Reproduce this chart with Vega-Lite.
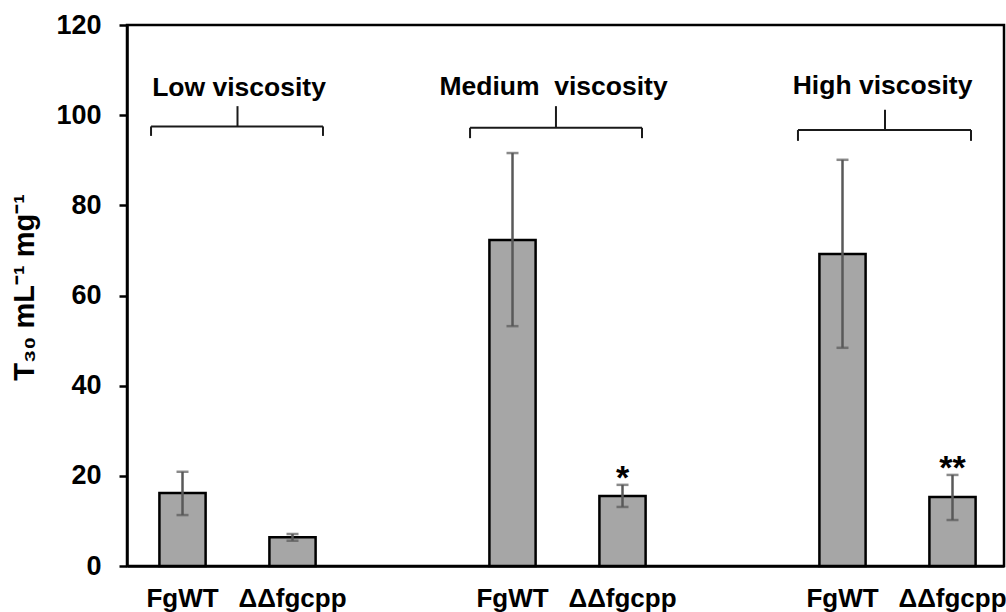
{
  "$schema": "https://vega.github.io/schema/vega-lite/v6.json",
  "width": 877,
  "height": 541,
  "autosize": {"type": "none"},
  "padding": {"left": 127, "top": 25, "right": 2, "bottom": 46},
  "background": "white",
  "config": {
    "view": {"stroke": "black", "strokeWidth": 2.5},
    "font": "Liberation Sans"
  },
  "datasets": {
    "bars": [
      {"cond": "low_WT", "viscosity": "Low", "strain": "FgWT", "mean": 16.2, "lo": 11.3, "hi": 20.9, "sig": ""},
      {"cond": "low_KO", "viscosity": "Low", "strain": "ΔΔfgcpp", "mean": 6.4, "lo": 5.6, "hi": 7.1, "sig": ""},
      {"cond": "med_WT", "viscosity": "Medium", "strain": "FgWT", "mean": 72.3, "lo": 53.2, "hi": 91.6, "sig": ""},
      {"cond": "med_KO", "viscosity": "Medium", "strain": "ΔΔfgcpp", "mean": 15.5, "lo": 13.1, "hi": 18.0, "sig": "*"},
      {"cond": "high_WT", "viscosity": "High", "strain": "FgWT", "mean": 69.2, "lo": 48.4, "hi": 90.1, "sig": ""},
      {"cond": "high_KO", "viscosity": "High", "strain": "ΔΔfgcpp", "mean": 15.3, "lo": 10.2, "hi": 20.2, "sig": "**"}
    ],
    "braces": [
      {"group": "Low", "x": -0.286, "x2": 1.277, "y": 97.5, "y2": 97.5},
      {"group": "Low", "x": -0.286, "x2": -0.286, "y": 97.5, "y2": 95.4},
      {"group": "Low", "x": 1.277, "x2": 1.277, "y": 97.5, "y2": 95.4},
      {"group": "Low", "x": 0.5, "x2": 0.5, "y": 97.5, "y2": 102.0},
      {"group": "Medium", "x": 2.614, "x2": 4.177, "y": 97.2, "y2": 97.2},
      {"group": "Medium", "x": 2.614, "x2": 2.614, "y": 97.2, "y2": 94.9},
      {"group": "Medium", "x": 4.177, "x2": 4.177, "y": 97.2, "y2": 94.9},
      {"group": "Medium", "x": 3.395, "x2": 3.395, "y": 97.2, "y2": 102.0},
      {"group": "High", "x": 5.595, "x2": 7.168, "y": 96.7, "y2": 96.7},
      {"group": "High", "x": 5.595, "x2": 5.595, "y": 96.7, "y2": 94.3},
      {"group": "High", "x": 7.168, "x2": 7.168, "y": 96.7, "y2": 94.3},
      {"group": "High", "x": 6.386, "x2": 6.386, "y": 96.7, "y2": 101.2}
    ],
    "groups": [
      {"label": "Low viscosity", "xc": 0.514, "yb": 104.3},
      {"label": "Medium\u00a0 viscosity", "xc": 3.373, "yb": 104.5},
      {"label": "High viscosity", "xc": 6.364, "yb": 104.7}
    ]
  },
  "layer": [
    {
      "data": {"name": "bars"},
      "encoding": {
        "x": {
          "field": "cond",
          "type": "nominal",
          "sort": null,
          "scale": {
            "domain": ["low_WT", "low_KO", "gap1", "med_WT", "med_KO", "gap2", "high_WT", "high_KO"],
            "paddingInner": 0.58,
            "paddingOuter": 0.2764,
            "align": 0.533
          },
          "axis": {
            "title": null,
            "labelAngle": 0,
            "ticks": false,
            "domainColor": "black",
            "domainWidth": 2.5,
            "labelExpr": "indexof(datum.value, 'WT') >= 0 ? 'FgWT' : (indexof(datum.value, 'KO') >= 0 ? 'ΔΔfgcpp' : '')",
            "labelFontSize": 26,
            "labelFontWeight": "bold",
            "labelColor": "black",
            "labelPadding": 19,
            "labelBaseline": "top",
            "labelOverlap": false
          }
        }
      },
      "layer": [
        {
          "mark": {"type": "bar", "fill": "#a6a6a6", "stroke": "black", "strokeWidth": 2.5},
          "encoding": {
            "y": {
              "field": "mean",
              "type": "quantitative",
              "scale": {"domain": [0, 120], "nice": false},
              "axis": {
                "title": "T₃₀ mL⁻¹ mg⁻¹",
                "values": [0, 20, 40, 60, 80, 100, 120],
                "grid": false,
                "tickSize": 8,
                "tickWidth": 2.5,
                "tickColor": "black",
                "domainColor": "black",
                "domainWidth": 2.5,
                "labelFontSize": 27,
                "labelFontWeight": "bold",
                "labelColor": "black",
                "labelPadding": 18,
                "titleFontSize": 29,
                "titleFontWeight": "bold",
                "titleColor": "black",
                "titleAngle": 270,
                "titleX": -94,
                "titleY": 262,
                "titleAlign": "center",
                "titleBaseline": "alphabetic"
              }
            }
          }
        },
        {
          "mark": {"type": "rule", "color": "#595959", "strokeWidth": 2.5},
          "encoding": {
            "y": {"field": "lo", "type": "quantitative"},
            "y2": {"field": "hi"}
          }
        },
        {
          "mark": {"type": "tick", "color": "#595959", "thickness": 2.5, "size": 12},
          "encoding": {"y": {"field": "lo", "type": "quantitative"}}
        },
        {
          "mark": {"type": "tick", "color": "#595959", "thickness": 2.5, "size": 12},
          "encoding": {"y": {"field": "hi", "type": "quantitative"}}
        },
        {
          "mark": {"type": "text", "fontSize": 34, "fontWeight": "bold", "color": "black", "baseline": "alphabetic", "dy": 4},
          "encoding": {
            "y": {"field": "hi", "type": "quantitative"},
            "text": {"field": "sig"}
          }
        }
      ]
    },
    {
      "layer": [
        {
          "data": {"name": "braces"},
          "mark": {"type": "rule", "color": "#1a1a1a", "strokeWidth": 2},
          "encoding": {
            "x": {"field": "x", "type": "quantitative", "scale": {"domain": [-0.5045, 7.468], "nice": false, "zero": false}, "axis": null},
            "x2": {"field": "x2"},
            "y": {"field": "y", "type": "quantitative"},
            "y2": {"field": "y2"}
          }
        },
        {
          "data": {"name": "groups"},
          "mark": {"type": "text", "fontSize": 26.5, "fontWeight": "bold", "color": "black", "align": "center", "baseline": "alphabetic"},
          "encoding": {
            "x": {"field": "xc", "type": "quantitative", "axis": null},
            "y": {"field": "yb", "type": "quantitative"},
            "text": {"field": "label"}
          }
        }
      ]
    }
  ],
  "resolve": {"scale": {"x": "independent"}}
}
